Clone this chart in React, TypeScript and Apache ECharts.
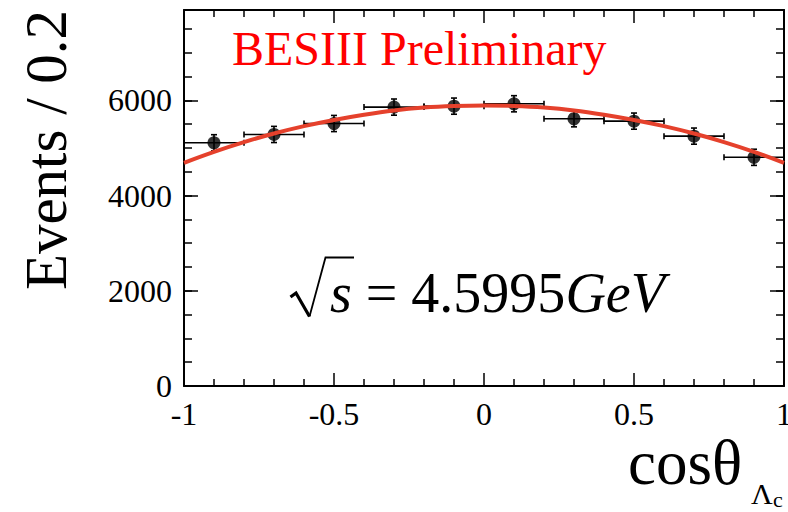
import React, { useEffect, useRef } from "react";
import * as echarts from "echarts";

// Measured angular distribution: bin centres, event counts and uncertainties
const binCenters = [-0.9, -0.7, -0.5, -0.3, -0.1, 0.1, 0.3, 0.5, 0.7, 0.9];
const binHalfWidth = 0.1;
const eventCounts = [5110, 5285, 5515, 5860, 5880, 5930, 5615, 5565, 5250, 4805];
const eventErrors = [170, 170, 170, 170, 170, 170, 170, 170, 170, 170];

// Fitted angular curve, sampled across cosθ
const fitX = [-1, -0.9, -0.8, -0.7, -0.6, -0.5, -0.4, -0.3, -0.2, -0.1, 0, 0.1, 0.2, 0.3, 0.4, 0.5, 0.6, 0.7, 0.8, 0.9, 1];
const fitY = [4690, 4920, 5125, 5305, 5460, 5590, 5700, 5790, 5850, 5883, 5895, 5883, 5850, 5790, 5700, 5590, 5460, 5305, 5125, 4920, 4690];

// Axis ranges and tick labels
const xRange = [-1, 1];
const yRange = [0, 7900];
const xTickLabels: Record<string, string> = { "-1": "-1", "-0.5": "-0.5", "0": "0", "0.5": "0.5", "1": "1" };
const yTickLabels = [0, 2000, 4000, 6000];

const SERIF = "'Liberation Serif', 'Times New Roman', serif";

export default function App() {
  const ref = useRef<HTMLDivElement>(null);

  useEffect(() => {
    if (!ref.current) return;
    const chart = echarts.init(ref.current, undefined, { renderer: "svg" });

    const axisLine = { show: true, onZero: false, lineStyle: { color: "#000", width: 2 } };

    const xBase = {
      type: "value" as const,
      min: xRange[0],
      max: xRange[1],
      interval: 0.5,
      splitLine: { show: false },
      axisLine,
      axisTick: { show: true, inside: true, length: 13, lineStyle: { color: "#000", width: 1.5 } },
      minorTick: { show: true, splitNumber: 5, length: 7, lineStyle: { color: "#000", width: 1.5 } },
    };

    const yMajor = {
      type: "value" as const,
      min: yRange[0],
      max: yRange[1],
      interval: 2000,
      splitLine: { show: false },
      axisLine,
      axisTick: { show: true, inside: true, length: 14, lineStyle: { color: "#000", width: 1.5 } },
    };
    const yMinor = {
      type: "value" as const,
      min: yRange[0],
      max: yRange[1],
      interval: 500,
      splitLine: { show: false },
      axisLine: { show: false, onZero: false },
      axisLabel: { show: false },
      axisTick: { show: true, inside: true, length: 8, lineStyle: { color: "#000", width: 1.5 } },
    };

    const points = binCenters.map((x, i) => [x, eventCounts[i], eventErrors[i]]);
    const fit = fitX.map((x, i) => [x, fitY[i]]);

    chart.setOption({
      animation: false,
      backgroundColor: "#fff",
      grid: { left: 184, right: 4, top: 10, bottom: 126, containLabel: false, outerBoundsMode: "none" },
      xAxis: [
        {
          ...xBase,
          position: "bottom",
          axisLabel: {
            show: true,
            margin: 12,
            fontFamily: SERIF,
            fontSize: 32,
            color: "#000",
            formatter: (v: number) => xTickLabels[String(v)] ?? "",
          },
        },
        { ...xBase, position: "top", axisLabel: { show: false } },
      ],
      yAxis: [
        {
          ...yMajor,
          position: "left",
          axisLabel: {
            show: true,
            margin: 12,
            fontFamily: SERIF,
            fontSize: 32,
            color: "#000",
            formatter: (v: number) => (yTickLabels.includes(v) ? String(v) : ""),
          },
        },
        { ...yMinor, position: "left" },
        { ...yMajor, position: "right", axisLabel: { show: false } },
        { ...yMinor, position: "right" },
      ],
      series: [
        {
          type: "custom",
          xAxisIndex: 0,
          yAxisIndex: 0,
          data: points,
          z: 2,
          renderItem: (_params: any, api: any) => {
            const x = api.value(0);
            const y = api.value(1);
            const e = api.value(2);
            const l = api.coord([x - binHalfWidth, y]);
            const r = api.coord([x + binHalfWidth, y]);
            const t = api.coord([x, y + e]);
            const b = api.coord([x, y - e]);
            const cap = 3;
            const style = { stroke: "#000", lineWidth: 1.6 };
            return {
              type: "group",
              children: [
                { type: "line", shape: { x1: l[0], y1: l[1], x2: r[0], y2: r[1] }, style },
                { type: "line", shape: { x1: t[0], y1: t[1], x2: b[0], y2: b[1] }, style },
                { type: "line", shape: { x1: l[0], y1: l[1] - cap, x2: l[0], y2: l[1] + cap }, style },
                { type: "line", shape: { x1: r[0], y1: r[1] - cap, x2: r[0], y2: r[1] + cap }, style },
                { type: "line", shape: { x1: t[0] - cap, y1: t[1], x2: t[0] + cap, y2: t[1] }, style },
                { type: "line", shape: { x1: b[0] - cap, y1: b[1], x2: b[0] + cap, y2: b[1] }, style },
              ],
            };
          },
        },
        {
          type: "scatter",
          xAxisIndex: 0,
          yAxisIndex: 0,
          data: points.map((p) => [p[0], p[1]]),
          symbol: "circle",
          symbolSize: 13,
          itemStyle: { color: "#000" },
          z: 3,
        },
        {
          type: "line",
          xAxisIndex: 0,
          yAxisIndex: 0,
          data: fit,
          smooth: 0.4,
          showSymbol: false,
          symbol: "none",
          lineStyle: { color: "#e5412c", width: 4 },
          z: 4,
        },
      ],
      graphic: [
        {
          type: "text",
          x: 232,
          y: 65 - 0.3375 * 48,
          style: { text: "BESIII Preliminary", fill: "#ff0000", font: `48px ${SERIF}`, align: "left", verticalAlign: "middle" },
        },
        {
          type: "text",
          x: 46,
          y: 150,
          rotation: Math.PI / 2,
          style: { text: "Events / 0.2", fill: "#000", font: `59px ${SERIF}`, align: "center", verticalAlign: "middle" },
        },
        // radical sign of √s
        {
          type: "polyline",
          shape: { points: [[290.5, 297], [296, 293], [309.5, 316.5]] },
          style: { stroke: "#000", lineWidth: 3.2, fill: "none" },
        },
        {
          type: "polyline",
          shape: { points: [[309.5, 316.5], [325.5, 257.5], [354, 257.5]] },
          style: { stroke: "#000", lineWidth: 1.8, fill: "none" },
        },
        {
          type: "text",
          x: 330,
          y: 312 - 0.3375 * 56,
          style: {
            text: "{i|s} = 4.5995{i|GeV}",
            fill: "#000",
            font: `56px ${SERIF}`,
            align: "left",
            verticalAlign: "middle",
            rich: {
              i: { fontFamily: SERIF, fontSize: 56, fontStyle: "italic", fill: "#000" },
            },
          },
        },
        {
          type: "text",
          x: 628,
          y: 484 - 0.3375 * 63,
          style: { text: "cosθ", fill: "#000", font: `63px ${SERIF}`, align: "left", verticalAlign: "middle" },
        },
        {
          type: "text",
          x: 751,
          y: 504 - 0.3375 * 30,
          style: { text: "Λ", fill: "#000", font: `30px ${SERIF}`, align: "left", verticalAlign: "middle" },
        },
        {
          type: "text",
          x: 773,
          y: 507 - 0.3375 * 22,
          style: { text: "c", fill: "#000", font: `22px ${SERIF}`, align: "left", verticalAlign: "middle" },
        },
      ],
    });

    return () => chart.dispose();
  }, []);

  return <div ref={ref} style={{ width: 788, height: 512, position: "absolute", left: 0, top: 0 }} />;
}
